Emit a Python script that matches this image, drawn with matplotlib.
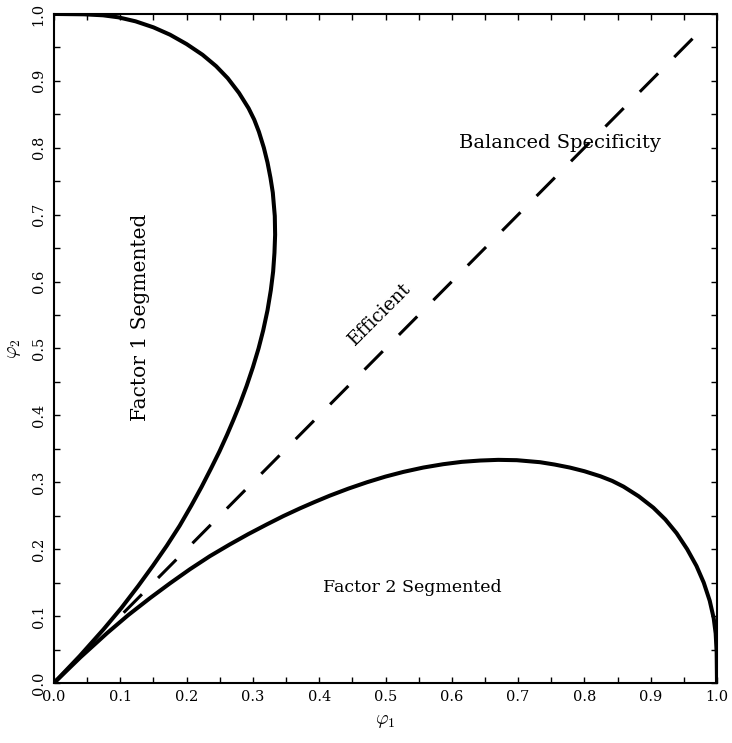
import numpy as np
import matplotlib.pyplot as plt

plt.rcParams['font.family'] = ['DejaVu Serif']
plt.rcParams['mathtext.fontset'] = 'cm'

# points (factor 2 segmented region)
phi1_lower = [0.0, 0.04, 0.08, 0.112, 0.145, 0.175, 0.205, 0.235, 0.265, 0.293,
              0.321, 0.346, 0.371, 0.393, 0.416, 0.444, 0.472, 0.50, 0.527, 0.557,
              0.587, 0.615, 0.643, 0.670, 0.698, 0.733, 0.755, 0.778, 0.800, 0.824,
              0.842, 0.859, 0.882, 0.904, 0.922, 0.939, 0.955, 0.969, 0.980, 0.989,
              0.995, 0.998, 0.9995, 1.0]
phi2_lower = [0.0, 0.0385, 0.0745, 0.1015, 0.127, 0.149, 0.170, 0.1895, 0.207, 0.2225,
              0.237, 0.2495, 0.261, 0.2705, 0.280, 0.2905, 0.300, 0.3085, 0.3155, 0.322,
              0.327, 0.3305, 0.3325, 0.3335, 0.333, 0.330, 0.3265, 0.322, 0.3165, 0.309,
              0.302, 0.2935, 0.279, 0.262, 0.2445, 0.224, 0.200, 0.175, 0.150, 0.123,
              0.097, 0.074, 0.045, 0.0]
# upper boundary is the same curve with the axes swapped
phi1_upper = phi2_lower
phi2_upper = phi1_lower

# efficient line
eff_x = [0.105, 0.97]
eff_y = [0.105, 0.97]

fig = plt.figure(figsize=(7.32, 7.43), dpi=100)
ax = fig.add_axes([0.0738, 0.0808, 0.9057, 0.9004])

ax.plot(phi1_lower, phi2_lower, color='black', lw=2.9,
        solid_capstyle='round', solid_joinstyle='round')
ax.plot(phi1_upper, phi2_upper, color='black', lw=2.9,
        solid_capstyle='round', solid_joinstyle='round')
ax.plot(eff_x, eff_y, color='black', lw=2.2, linestyle=(0, (8.5, 7.5)))

ax.set_xlim(0, 1)
ax.set_ylim(0, 1)
ticks = np.arange(0, 1.01, 0.1)
ax.set_xticks(ticks)
ax.set_yticks(ticks)
ax.set_xticklabels(['%.1f' % t for t in ticks])
ax.set_yticklabels(['%.1f' % t for t in ticks], rotation=90, va='center')
ax.set_xticks(np.arange(0.05, 1, 0.1), minor=True)
ax.set_yticks(np.arange(0.05, 1, 0.1), minor=True)
ax.tick_params(which='both', direction='in', top=True, right=True,
               length=4.5, width=1.0, labelsize=10.5)
ax.tick_params(axis='x', pad=5)
ax.tick_params(axis='y', pad=6)
for s in ax.spines.values():
    s.set_linewidth(1.5)

ax.set_xlabel(r'$\varphi_1$', fontsize=14, labelpad=6)
ax.set_ylabel(r'$\varphi_2$', fontsize=14, labelpad=6)

ax.text(0.763, 0.807, 'Balanced Specificity', fontsize=14, ha='center', va='center')
ax.text(0.130, 0.546, 'Factor 1 Segmented', fontsize=14.5, ha='center', va='center',
        rotation=90)
ax.text(0.541, 0.142, 'Factor 2 Segmented', fontsize=12.5, ha='center', va='center')
ax.text(0.492, 0.552, 'Efficient', fontsize=13.5, ha='center', va='center', rotation=45)

fig.savefig('out.png', dpi=100)
